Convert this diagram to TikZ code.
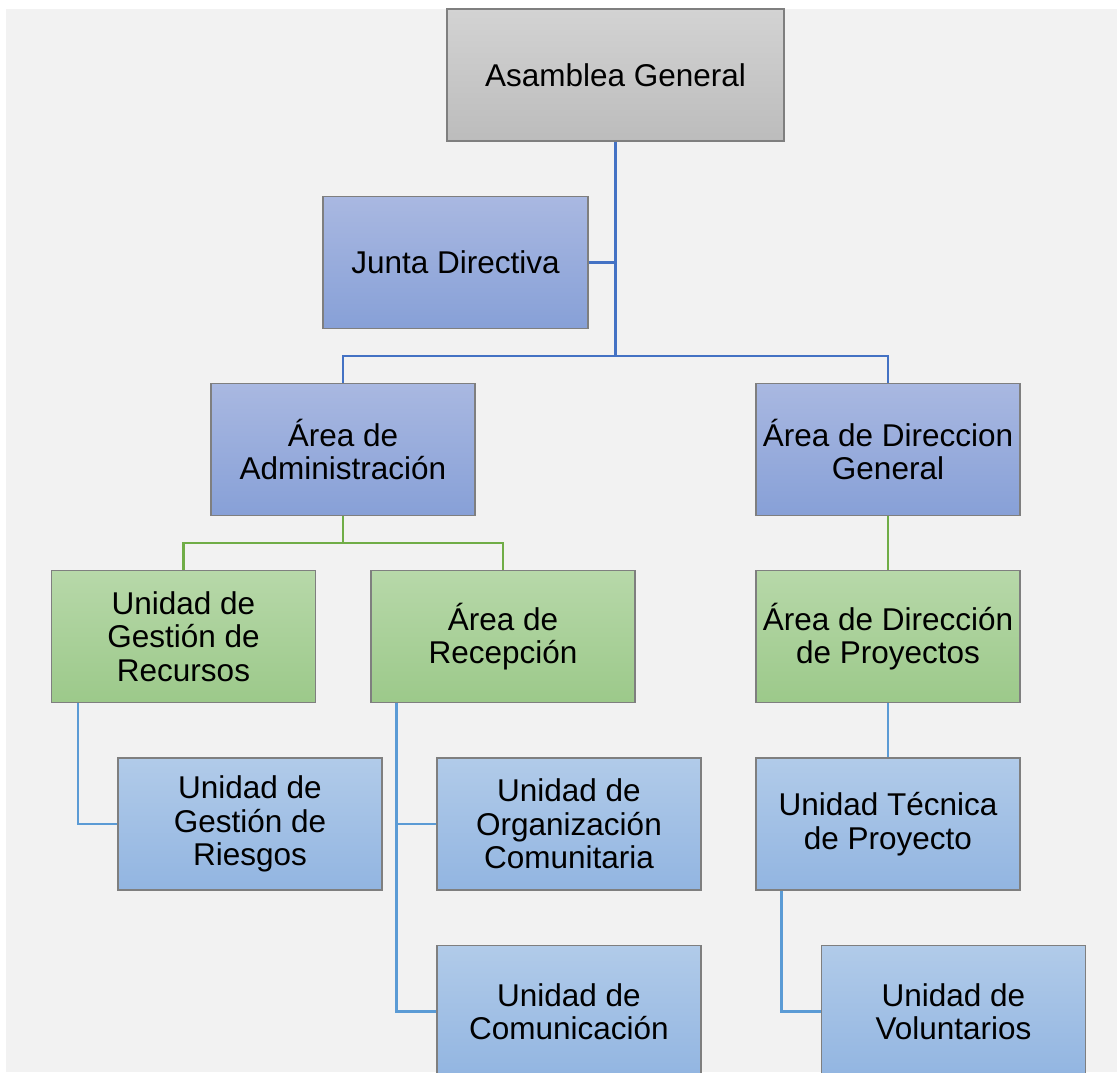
\documentclass[tikz,border=0pt]{standalone}
\usepackage{fontspec}
\setmainfont{Liberation Sans}
\definecolor{bggray}{HTML}{F2F2F2}
\definecolor{boxline}{HTML}{7F7F7F}
\definecolor{greytop}{HTML}{D3D3D3}
\definecolor{greybot}{HTML}{BCBCBC}
\definecolor{bluetop}{HTML}{A9B8E1}
\definecolor{bluebot}{HTML}{87A0D7}
\definecolor{greentop}{HTML}{B7D8A9}
\definecolor{greenbot}{HTML}{9CC98A}
\definecolor{skytop}{HTML}{B1CBE9}
\definecolor{skybot}{HTML}{92B5E1}
\definecolor{topline}{HTML}{4472C4}
\definecolor{greenline}{HTML}{70AD47}
\definecolor{skyline}{HTML}{5B9BD5}
\tikzset{
  orgbox/.style = {draw=boxline, line width=1.2pt, inner sep=0pt,
    minimum width=264pt, minimum height=132pt, align=center,
    font=\fontsize{31.5}{33.5}\selectfont},
  greybox/.style = {orgbox, top color=greytop, bottom color=greybot},
  bluebox/.style = {orgbox, top color=bluetop, bottom color=bluebot},
  greenbox/.style = {orgbox, top color=greentop, bottom color=greenbot},
  skybox/.style = {orgbox, top color=skytop, bottom color=skybot},
  toplink/.style = {draw=topline, line width=2.5pt},
  greenlink/.style = {draw=greenline, line width=2.5pt},
  skylink/.style = {draw=skyline, line width=2.5pt}
}

\begin{document}
\begin{tikzpicture}[x=1pt,y=-1pt]
  \clip (0,0) rectangle (1117,1072);
  \fill[white] (0,0) rectangle (1117,1072);
  \fill[bggray] (6,9) rectangle (1117,1072);
  % boxes
  \node[greybox, minimum width=337pt] (asamblea) at (615.5,75) {Asamblea General};
  \node[bluebox, minimum width=265pt] (junta) at (455.5,262.5) {Junta Directiva};
  \node[bluebox] (admin) at (343,449.5) {Área de\\Administración};
  \node[bluebox] (dirgen) at (888,449.5) {Área de Direccion\\General};
  \node[greenbox] (recursos) at (183.5,636.5) {Unidad de\\Gestión de\\Recursos};
  \node[greenbox] (recepcion) at (503,636.5) {Área de\\Recepción};
  \node[greenbox] (proyectos) at (888,636.5) {Área de Dirección\\de Proyectos};
  \node[skybox] (riesgos) at (250,824) {Unidad de\\Gestión de\\Riesgos};
  \node[skybox] (organizacion) at (569,824) {Unidad de\\Organización\\Comunitaria};
  \node[skybox] (tecnica) at (888,824) {Unidad Técnica\\de Proyecto};
  \node[skybox] (comunicacion) at (569,1011.5) {Unidad de\\Comunicación};
  \node[skybox] (voluntarios) at (953.5,1011.5) {Unidad de\\Voluntarios};
  % connectors
  \coordinate (hub) at (615.5,356);
  \coordinate (ghub) at (343,543);
  \draw[toplink] (asamblea.south) -- (hub);
  \draw[toplink] (junta.east) -- (junta.east -| hub);
  \draw[toplink] (admin.north) |- (hub) -| (dirgen.north);
  \draw[greenlink] (admin.south) -- (ghub);
  \draw[greenlink] (recursos.north) |- (ghub) -| (recepcion.north);
  \draw[greenlink] (dirgen.south) -- (proyectos.north);
  \draw[skylink] ([xshift=27pt]recursos.south west) |- (riesgos.west);
  \draw[skylink] ([xshift=26pt]recepcion.south west) |- (organizacion.west);
  \draw[skylink] ([xshift=26pt]recepcion.south west) |- (comunicacion.west);
  \draw[skylink] (proyectos.south) -- (tecnica.north);
  \draw[skylink] ([xshift=26pt]tecnica.south west) |- (voluntarios.west);
\end{tikzpicture}
\end{document}
